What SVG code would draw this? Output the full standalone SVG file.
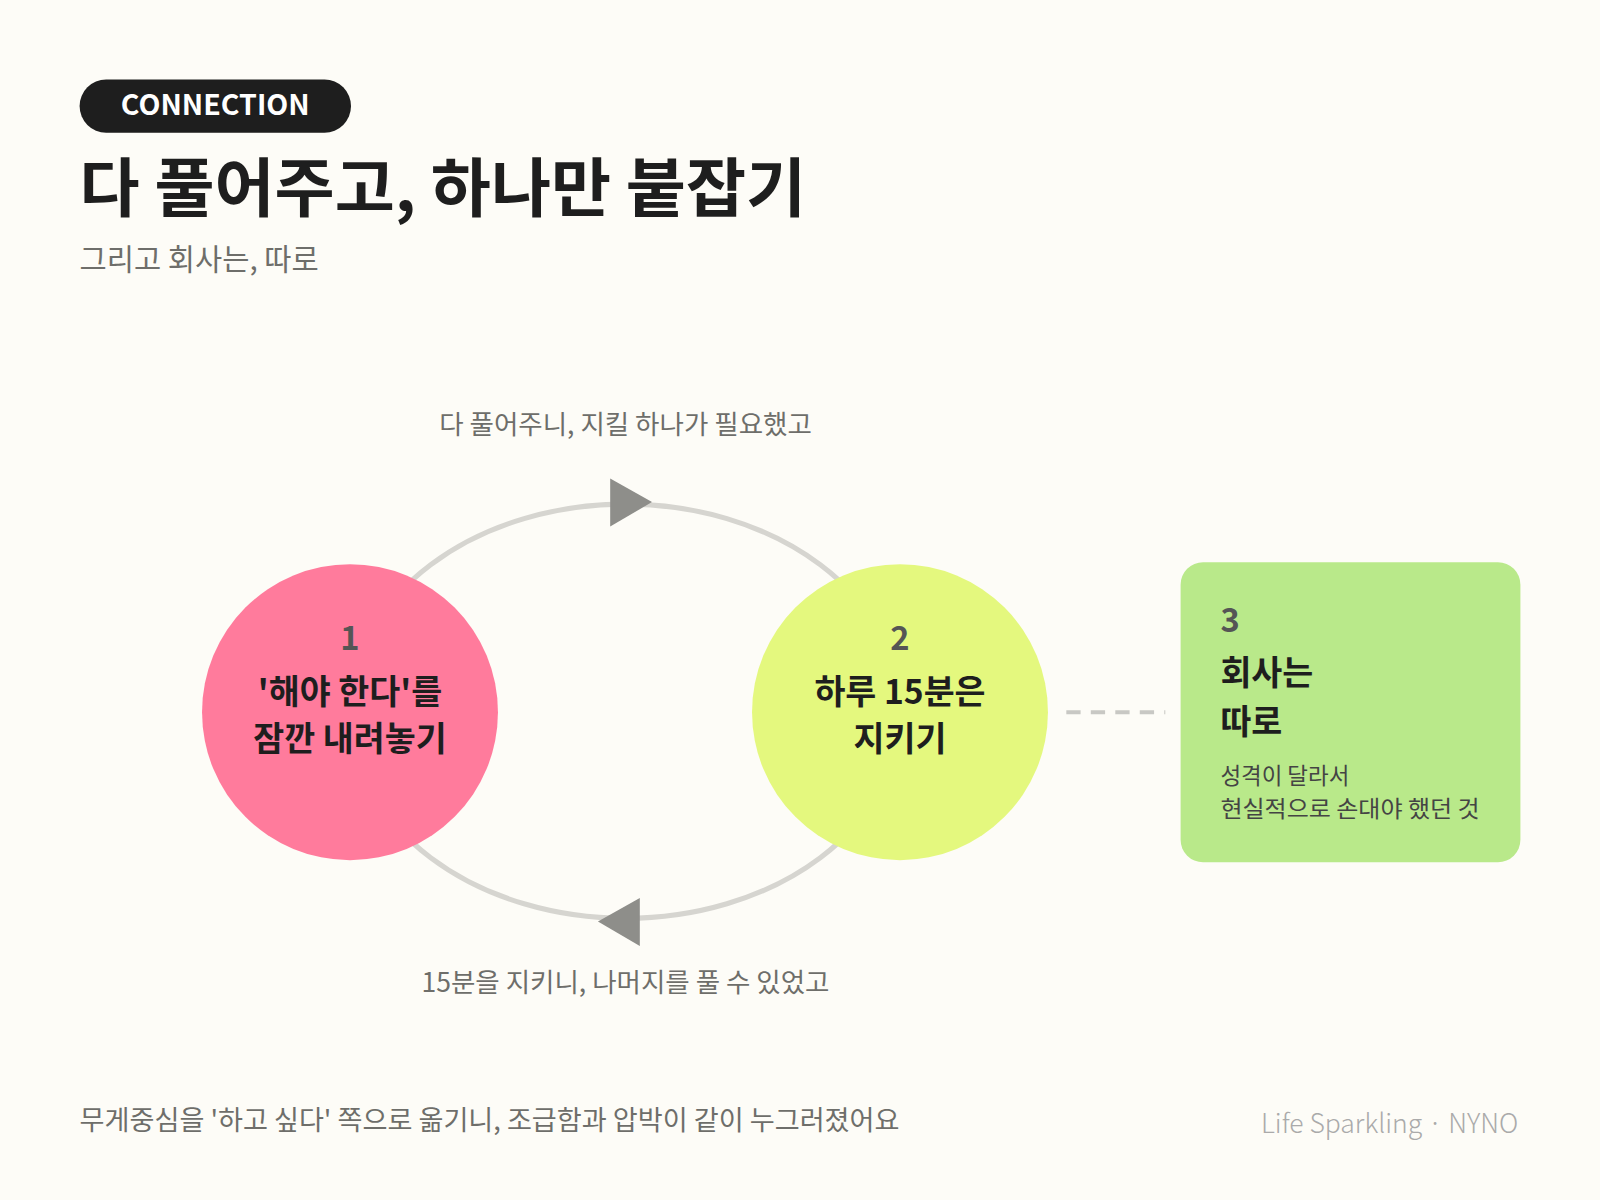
<svg xmlns="http://www.w3.org/2000/svg" width="1600" height="1200" viewBox="0 0 1600 1200">
<style>
text{font-family:"Noto Sans CJK KR","Noto Sans",sans-serif}
.b{font-weight:700;fill:#1e1e1e}
.g{fill:#6e6e6a}
.n{font-weight:700;fill:#555;font-size:32px}
</style>
<rect width="1600" height="1200" fill="#fdfcf7"/>
<g transform="scale(1.0204)">
<g id="header">
<rect x="78" y="78" width="266" height="52" rx="26" fill="#1e1e1e"/>
<text x="211" y="113" text-anchor="middle" font-size="28" font-weight="700" fill="#fff">CONNECTION</text>
<text x="78" y="207" class="b" font-size="62" font-weight="900" textLength="712" lengthAdjust="spacingAndGlyphs">다 풀어주고, 하나만 붙잡기</text>
<text x="78" y="265" class="g" font-size="29">그리고 회사는, 따로</text>
</g>
<g id="connectors">
<ellipse cx="613" cy="697" rx="270" ry="203" fill="none" stroke="#d6d5d0" stroke-width="5"/>
<polygon points="598,469 598,516 639,492" fill="#8e8e8a"/>
<polygon points="627,880 627,927 586,903" fill="#8e8e8a"/>
<line x1="1045" y1="698" x2="1142" y2="698" stroke="#c8c8c4" stroke-width="4" stroke-dasharray="14,10"/>
<text x="613" y="425" text-anchor="middle" class="g" font-size="26">다 풀어주니, 지킬 하나가 필요했고</text>
<text x="613" y="972" text-anchor="middle" class="g" font-size="26">15분을 지키니, 나머지를 풀 수 있었고</text>
</g>
<g id="node1">
<circle cx="343" cy="698" r="145" fill="#ff7b9c"/>
<text x="343" y="637" text-anchor="middle" class="n">1</text>
<text x="343" y="690" text-anchor="middle" class="b" font-size="33">'해야 한다'를</text>
<text x="343" y="736" text-anchor="middle" class="b" font-size="33">잠깐 내려놓기</text>
</g>
<g id="node2">
<circle cx="882" cy="698" r="145" fill="#e4f87e"/>
<text x="882" y="637" text-anchor="middle" class="n">2</text>
<text x="882" y="690" text-anchor="middle" class="b" font-size="33">하루 15분은</text>
<text x="882" y="736" text-anchor="middle" class="b" font-size="33">지키기</text>
</g>
<g id="node3">
<rect x="1157" y="551" width="333" height="294" rx="22" fill="#b9e98a"/>
<text x="1196" y="619" class="n">3</text>
<text x="1196" y="671" class="b" font-size="33">회사는</text>
<text x="1196" y="719" class="b" font-size="33">따로</text>
<text x="1196" y="768" fill="#444" font-size="22">성격이 달라서</text>
<text x="1196" y="801" fill="#444" font-size="22" textLength="254" lengthAdjust="spacingAndGlyphs">현실적으로 손대야 했던 것</text>
</g>
<g id="footer">
<text x="78" y="1107" class="g" font-size="26.6">무게중심을 '하고 싶다' 쪽으로 옮기니, 조급함과 압박이 같이 누그러졌어요</text>
<text x="1488" y="1110" text-anchor="end" fill="#aaa" font-size="26" font-weight="300">Life Sparkling · NYNO</text>
</g>
</g>
</svg>
